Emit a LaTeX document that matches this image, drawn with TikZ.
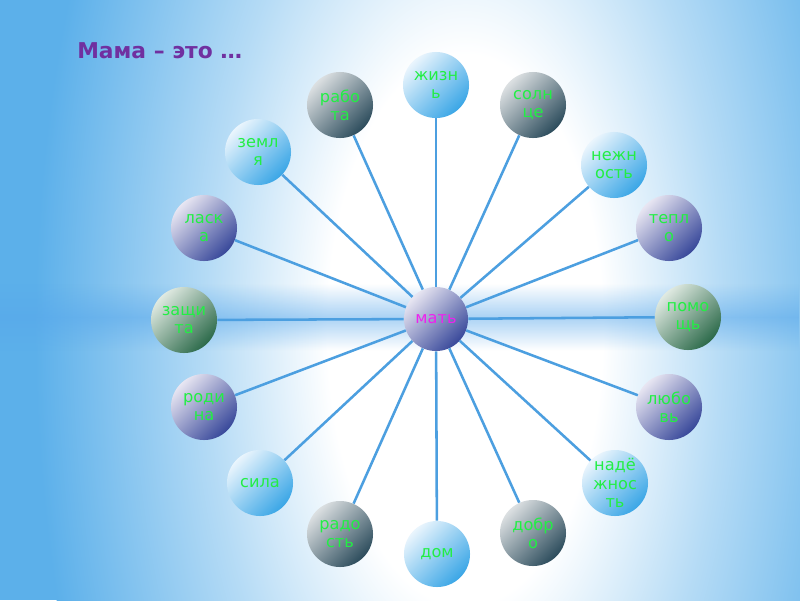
\documentclass[tikz,border=0pt]{standalone}
\usepackage{fontspec}
\setmainfont{DejaVu Sans}
\usepackage{xcolor}
\usetikzlibrary{positioning,fadings}

\definecolor{bgblue}{HTML}{5CB0EA}
\definecolor{spokeblue}{HTML}{4C9FE0}
\definecolor{wordgreen}{HTML}{22EE44}
\definecolor{titleviolet}{HTML}{7030A0}
\definecolor{centremagenta}{HTML}{EE22EE}
\definecolor{skylight}{HTML}{EAF5FD}
\definecolor{skydark}{HTML}{3AA6E6}
\definecolor{slatelight}{HTML}{DCE0E2}
\definecolor{slatedark}{HTML}{2C4C5C}
\definecolor{lavlight}{HTML}{E8E6F2}
\definecolor{lavdark}{HTML}{38489A}
\definecolor{sagelight}{HTML}{E0EAE2}
\definecolor{sagedark}{HTML}{2C6A4A}

\pgfdeclareradialshading{glow}{\pgfpoint{0bp}{0bp}}{color(0bp)=(white); color(8bp)=(white); color(15bp)=(bgblue!45!white); color(25bp)=(bgblue); color(50bp)=(bgblue)}
\tikzfading[name=fade tb, top color=transparent!100, bottom color=transparent!100, middle color=transparent!0]

\begin{document}
\begin{tikzpicture}[x=0.025cm,y=-0.025cm,
  ball/.style={circle,minimum size=1.65cm,inner sep=0pt,align=center,
    font=\fontsize{11.5}{13}\selectfont,text=wordgreen},
  blueball/.style={ball,top color=skylight,bottom color=skydark,shading angle=45},
  grayball/.style={ball,top color=slatelight,bottom color=slatedark,shading angle=45},
  violetball/.style={ball,top color=lavlight,bottom color=lavdark,shading angle=45},
  greenball/.style={ball,top color=sagelight,bottom color=sagedark,shading angle=45},
  spoke/.style={draw=spokeblue,line width=1.8pt}
]
  \useasboundingbox (0,0) rectangle (800,600);
  % background
  \fill[bgblue] (0,0) rectangle (800,600);
  \clip (0,0) rectangle (800,600);
  \begin{scope}[shift={(465,330)},yscale=2]
    \shade[shading=glow] (0,0) circle [radius=430];
  \end{scope}
  \shade[left color=bgblue!95!blue,middle color=white,right color=bgblue!95!blue,path fading=fade tb,opacity=0.5] (0,284) rectangle (800,350);

  \node[font=\fontsize{15.5}{17}\selectfont\bfseries,text=titleviolet,anchor=west,inner sep=0pt] (title) at (77,51) {Мама – это …};

  % ring of words
  \node[blueball]   (zhizn)   at (436,85)  {жизн\\ь};
  \node[grayball]   (solnce)  at (533,105) {солн\\це};
  \node[blueball]   (nezhn)   at (614,165) {нежн\\ость};
  \node[violetball] (teplo)   at (669,228) {тепл\\о};
  \node[greenball]  (pomosch) at (688,317) {помо\\щь};
  \node[violetball] (lyubov)  at (669,407) {любо\\вь};
  \node[blueball]   (nadezh)  at (615,483) {надё\\жнос\\ть};
  \node[grayball]   (dobro)   at (533,533) {добр\\о};
  \node[blueball]   (dom)     at (437,554) {дом};
  \node[grayball]   (radost)  at (340,534) {радо\\сть};
  \node[blueball]   (sila)    at (260,483) {сила};
  \node[violetball] (rodina)  at (204,407) {роди\\на};
  \node[greenball]  (zaschita) at (184,320) {защи\\та};
  \node[violetball] (laska)   at (204,228) {ласк\\а};
  \node[blueball]   (zemlya)  at (258,152) {земл\\я};
  \node[grayball]   (rabota)  at (340,105) {рабо\\та};

  \node[violetball,minimum size=1.6cm,text=centremagenta] (mat) at (436,319) {мать};

  \foreach \w in {zhizn,solnce,nezhn,teplo,pomosch,lyubov,nadezh,dobro,dom,radost,sila,rodina,zaschita,laska,zemlya,rabota}
    \draw[spoke] (mat) -- (\w);
\end{tikzpicture}
\end{document}
